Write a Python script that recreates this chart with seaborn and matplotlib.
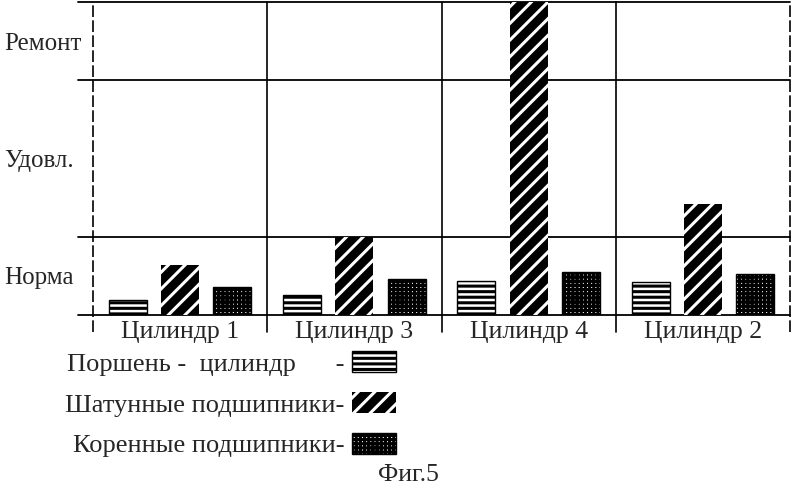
import numpy as np
import pandas as pd
import matplotlib
matplotlib.use("Agg")
import matplotlib.pyplot as plt
import seaborn as sns

# values (1 unit = upper bound of "Норма")
cylinders = ["Цилиндр 1", "Цилиндр 3", "Цилиндр 4", "Цилиндр 2"]
components = ["Поршень - цилиндр", "Шатунные подшипники", "Коренные подшипники"]
piston = [0.19, 0.26, 0.44, 0.42]
conrod = [0.64, 1.00, 4.00, 1.42]
main_brg = [0.36, 0.46, 0.55, 0.53]

level_labels = ["Норма", "Удовл.", "Ремонт"]
level_pos = [0.5, 2.0, 3.5]
level_bounds = [0, 1, 3, 4]

legend_labels = ["Поршень -  цилиндр      -", "Шатунные подшипники-", "Коренные подшипники-"]
hatches = ["---", "//", "++++"]
faces = ["white", "black", "white"]
hatch_colors = ["black", "white", "black"]

df = pd.DataFrame({
    "cyl": cylinders * 3,
    "comp": np.repeat(components, len(cylinders)),
    "val": piston + conrod + main_brg,
})

sns.set_theme(style="white")
plt.rcParams["font.family"] = ["Liberation Serif", "DejaVu Serif"]
plt.rcParams["hatch.linewidth"] = 2.2

fig = plt.figure(figsize=(8, 4.96), dpi=100)
ax = fig.add_axes([93 / 800, 1 - 315 / 496, 697 / 800, 313 / 496])

sns.barplot(data=df, x="cyl", y="val", hue="comp", order=cylinders, hue_order=components,
            palette=["white"] * 3, edgecolor="black", linewidth=1, width=0.9, gap=0.27,
            legend=False, ax=ax, zorder=3)

for cont, h, fc, hc in zip(ax.containers, hatches, faces, hatch_colors):
    for bar in cont:
        bar.set_facecolor(fc)
        bar.set_edgecolor(hc)
        bar.set_hatch(h)
        if hc == "white":
            bar.set_linewidth(0)

ax.set_xlim(-0.5, 3.5)
ax.set_ylim(0, 4)
for s in ax.spines.values():
    s.set_visible(False)

for y in level_bounds:
    ax.axhline(y, xmin=-0.022, xmax=1, color="black", lw=1.3, clip_on=False, zorder=1)
for x in [0.5, 1.5, 2.5]:
    ax.axvline(x, ymin=-0.055, ymax=1, color="black", lw=1.2, clip_on=False, zorder=1)
for x in [-0.5, 3.5]:
    ax.axvline(x, ymin=-0.055, ymax=1, color="black", lw=1.2, ls=(0, (7, 2)), clip_on=False, zorder=1)

ax.set_yticks(level_pos, level_labels)
for t in ax.get_yticklabels():
    t.set_horizontalalignment("left")
ax.tick_params(axis="y", length=0, pad=64, labelsize=18)
ax.tick_params(axis="x", length=0, pad=4, labelsize=18.5)
ax.set_xlabel("")
ax.set_ylabel("")

handles = [c.patches[0] for c in ax.containers]
fig.legend(handles, legend_labels, loc="upper right", bbox_to_anchor=(396 / 800, 1 - 351 / 496),
           frameon=False, markerfirst=False, fontsize=19, handlelength=1.65, handleheight=0.84,
           handletextpad=0.3, labelspacing=0.62, borderpad=0, borderaxespad=0)

fig.text(408 / 800, 1 - 475 / 496, "Фиг.5", ha="center", va="center", fontsize=18.5)

fig.savefig("out.png", dpi=100)
